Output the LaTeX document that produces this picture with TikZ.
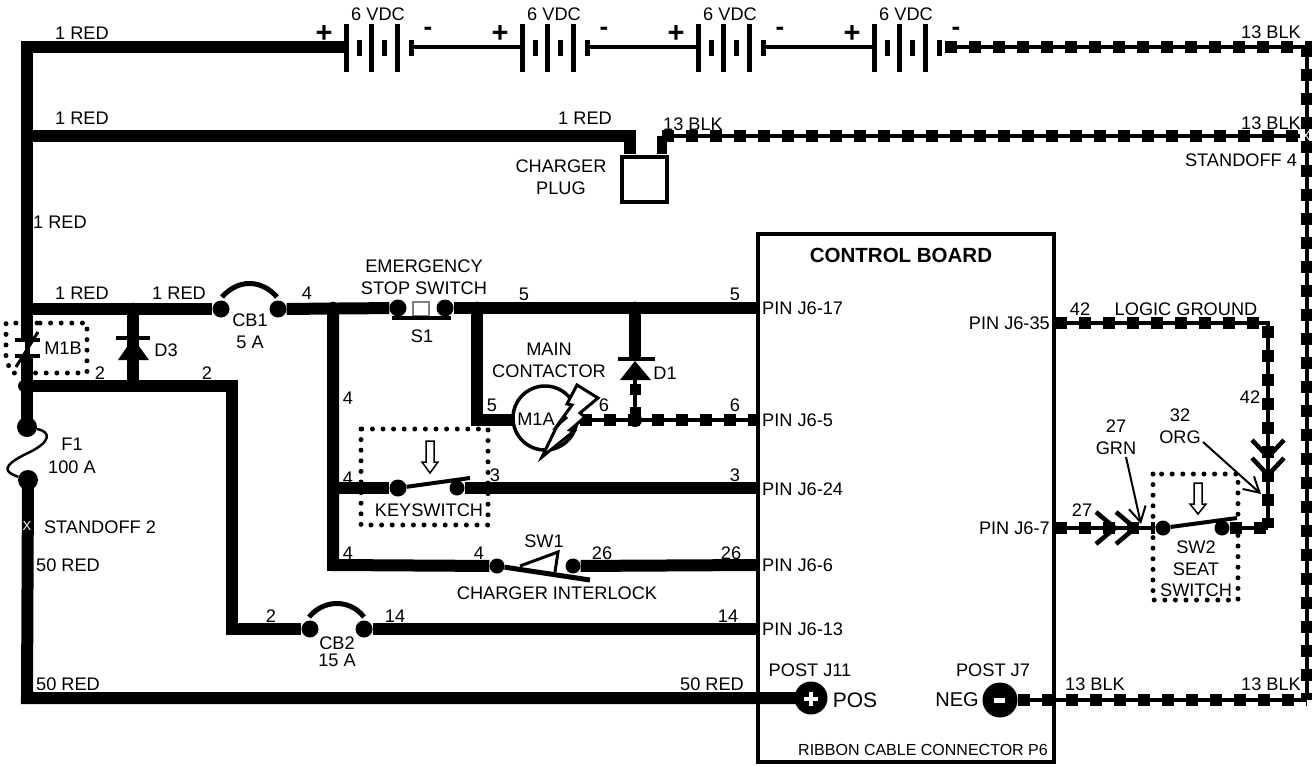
\documentclass[tikz,border=0pt]{standalone}
\usepackage{fontspec}
\setmainfont{Liberation Sans}
\usetikzlibrary{arrows.meta}
\tikzset{
  redwire/.style={line width=12pt},
  thinwire/.style={line width=4pt},
  blkwire/.style={line width=4pt,preaction={draw,line width=12pt,dash pattern=on 12pt off 12pt}},
  blade/.style={line width=4pt},
  joint/.style={circle,fill=black,inner sep=0pt,minimum size=#1},
  joint/.default=17pt,
  dotbox/.style={line width=5pt,line cap=round,dash pattern=on 0pt off 10.6pt},
  lab/.style={inner sep=0pt,font=\fontsize{18.2}{19}\selectfont,align=center},
  leader/.style={line width=2pt,-{Straight Barb[length=15pt,width=17pt]}},
  chevron/.style={line width=4.5pt},
  hollowarrow/.style={draw,line width=1.5pt,fill=white}
}
\begin{document}
\begin{tikzpicture}[x=1pt,y=-1pt]
    \useasboundingbox (0,0) rectangle (1312,766);

    % wire corners and ends
    \foreach \n/\x/\y in {topL/27/47,midL/27/136,midR/630/136,plugA/630/154,plugB/662/154,plugC/662/136,
      r136/1300/136,batEnd/945/47,batTR/1307/47,batBR/1307/700,
      m1bTop/27/340,m1bBot/27/356,lo2/27/386,lo2R/232/386,lo2D/232/629,
      f1a/27/427,f1b/28/480,botL/27/698,
      d3a/133/309,d3b/133/339,d3c/133/360,d3d/133/386,
      v4a/333/308,v4b/333/565,v5a/477/308,v5b/477/420,m1aL/512/420,
      d1a/635/308,d1b/635/357,d1c/635/380,m1aR/580/420,
      pin17/757/308,pin5/757/420,pin24/757/488,pin6/757/565,pin13/757/629,
      pin35/1055/323,pin7/1055/528,logicC/1268/323,logicD/1268/528,
      postPwire/797/698,negR/1307/700}
    \coordinate (\n) at (\x,\y);

    % batteries
    \foreach \k/\s in {0/bA,1/bB,2/bC,3/bD} {
      \foreach \o/\h/\w in {0/24/5,13/8/5,25/24/5,38/8/5,51/24/5,65/8/5}
        \draw [line width=\w pt] (346+176*\k+\o,48-\h) -- (346+176*\k+\o,48+\h);
      \coordinate (\s P) at (346+176*\k,47);
      \coordinate (\s N) at (411+176*\k,47);
      \node [lab,font=\fontsize{29}{29}\selectfont\bfseries] (\s plus) at (324+176*\k,34) {+};
      \node [lab,font=\fontsize{26}{26}\selectfont\bfseries] (\s minus) at (428+176*\k,31) {-};
      \node [lab] (\s volt) at (378+176*\k,14) {6 VDC};
    }
    \draw [redwire] (bAP) -- (topL) -- (m1bTop);
    \draw [thinwire] (bAN) -- (bBP);
    \draw [thinwire] (bBN) -- (bCP);
    \draw [thinwire] (bCN) -- (bDP);
    \draw [blkwire] (batEnd) -- (batTR) -- (batBR);

    % charger plug
    \node [draw,line width=4pt,minimum size=45pt,inner sep=0pt] (plug) at (644,179) {};
    \draw [redwire] (midL) -- (midR) -- (plugA);
    \draw [line width=10pt] (plugB) -- (plugC);
    \draw [blkwire] (plugC) -- (r136);
    \node [lab,text=white,font=\fontsize{13}{13}\selectfont] (so4) at (1306,136) {X};

    % control board
    \node [draw,line width=4pt,minimum width=296pt,minimum height=528pt,inner sep=0pt] (board) at (906,498) {};

    % left rail
    \draw [redwire] (m1bBot) -- (f1a);
    \draw [redwire] (f1b) -- (botL) -- (postPwire);
    \node [lab,text=white,font=\fontsize{13}{13}\selectfont] (so2) at (27,526) {X};
    \node [joint=20pt] (f1A) at (f1a) {};
    \node [joint=20pt] (f1B) at (f1b) {};
    \draw [line width=2.5pt] (f1A) .. controls (52,432) and (50,442) .. (30,452) .. controls (0,466) and (4,472) .. (f1B);

    % M1B contact
    \draw [line width=4pt] (15,340) -- (40,340);
    \draw [line width=4pt] (15,356) -- (40,356);
    \draw [line width=3pt] (16,367) -- (38,332);
    \draw [line width=5pt] (27,340) -- (27,356);
    \draw [dotbox] (40,323) -- (87,323) -- (87,373) -- (40,373) -- (12,373) -- (6,360) -- (6,323) -- cycle;

    % CB1, S1, D3
    \node [joint] (cbOneA) at (221,309) {};
    \node [joint] (cbOneB) at (278,309) {};
    \node [joint] (sOneA) at (398,308) {};
    \node [joint] (sOneB) at (445,308) {};
    \draw [redwire] (27,309) -- (cbOneA);
    \draw [redwire] (cbOneB) -- (sOneA);
    \draw [redwire] (sOneB) -- (pin17);
    \draw [line width=5pt] (222,297) .. controls (238,279) and (261,279) .. (277,297);
    \draw [line width=1.5pt,gray] (413,302) rectangle (429,316);
    \draw [line width=4pt] (392,318) -- (451,318);
    \draw [redwire] (d3a) -- (d3d);
    \draw [line width=4.5pt] (116,338) -- (150,338);
    \fill (133,338) -- (149,360) -- (118,360) -- cycle;
    \foreach \p in {d3a,d3d,v4a,v5a,d1a}
      \fill (\p) ++(0,-1) circle (5.5);

    % CB2
    \node [joint] (cbTwoA) at (310,629) {};
    \node [joint] (cbTwoB) at (364,629) {};
    \draw [redwire] (lo2) -- (lo2R) -- (lo2D) -- (cbTwoA);
    \fill (lo2) ++(-3,0) circle (6);
    \draw [redwire] (cbTwoB) -- (pin13);
    \draw [line width=5pt] (309,617) .. controls (324,599) and (350,599) .. (364,617);

    % branches of wire 4 and 5
    \draw [redwire] (v5a) -- (v5b) -- (m1aL);
    \draw [redwire] (d1a) -- (d1b);
    \draw [line width=4.5pt] (618,359) -- (655,359);
    \fill (635,361) -- (651,380) -- (620,380) -- cycle;
    \draw [thinwire,preaction={draw,line width=11pt,dash pattern=on 11pt off 12pt,dash phase=-4pt}] (d1c) -- (635,420);
    \draw [blkwire] (m1aR) -- (pin5);
    \node [joint=14pt] (d1j) at (635,420) {};

    % M1A coil with bolt
    \node [circle,draw,line width=3.5pt,fill=white,minimum size=64pt,inner sep=0pt] (m1a) at (545,418) {};
    \draw [line width=3pt,fill=white] (577,385) -- (598,398) -- (580,413) -- (585,417) -- (570,430) -- (574,431) -- (542,457) -- (556,428) -- (560,423) -- (567,417) -- (559,423) -- (572,405) -- (567,404) -- cycle;

    % keyswitch
    \node [joint] (kA) at (398,488) {};
    \node [joint=15pt] (kB) at (457,488) {};
    \draw [redwire] (327,488) -- (kA);
    \draw [redwire] (kB) -- (pin24);
    \draw [blade] (kA) -- (470,478);
    \draw [dotbox] (361,429) rectangle (488,525);
    \draw [hollowarrow] (426,441) -- (434,441) -- (434,462) -- (438,462) -- (430,473) -- (422,462) -- (426,462) -- cycle;

    % SW1
    \node [joint=15pt] (swA) at (497,566) {};
    \node [joint=15pt] (swB) at (573,566) {};
    \draw [redwire] (v4a) -- (v4b) -- (swA);
    \draw [redwire] (swB) -- (pin6);
    \draw [line width=5pt] (swA) -- (590,580);
    \draw [line width=3pt] (520,566) -- (558,552) -- (555,572);

    % posts
    \node [joint=33pt] (postP) at (811,698) {};
    \node [joint=35pt] (postN) at (1000,700) {};
    \draw [white,line width=4.5pt] (804,699) -- (818,699) (811,692) -- (811,706);
    \draw [white,line width=5pt] (994,700) -- (1005,700);
    \draw [blkwire] (postN) -- (negR);

    % logic ground and seat switch
    \draw [blkwire] (pin35) -- (logicC) -- (logicD);
    \node [joint=15pt] (swTwoA) at (1163,528) {};
    \node [joint=15pt] (swTwoB) at (1222,528) {};
    \draw [blkwire] (pin7) -- (swTwoA);
    \draw [blkwire] (swTwoB) -- (logicD);
    \draw [blade] (swTwoA) -- (1237,518);
    \draw [dotbox] (1153,474) rectangle (1238,600);
    \draw [hollowarrow] (1194,483) -- (1202,483) -- (1202,504) -- (1206,504) -- (1198,514) -- (1190,504) -- (1194,504) -- cycle;
    \foreach \t in {1115,1135}
      \draw [chevron] (\t-19,512) -- (\t,528) -- (\t-19,544);
    \foreach \t in {457,475}
      \draw [chevron] (1252,\t-17) -- (1268,\t) -- (1284,\t-17);
    \node [lab] (grn) at (1116,437) {27\\[3pt]GRN};
    \node [lab] (org) at (1180,426) {32\\[3pt]ORG};
    \coordinate (grnTip) at (1141,524);
    \coordinate (orgTip) at (1261,494);
    \draw [leader] (1126,457) -- (grnTip);
    \draw [leader] (1203,442) -- (orgTip);

    % wire labels
    \foreach \x/\y/\t [count=\i] in {82/33/1 RED,1271/32/13 BLK,82/118/1 RED,585/118/1 RED,693/124/13 BLK,
      1271/123/13 BLK,1241/160/STANDOFF 4,60/222/1 RED,82/293/1 RED,179/293/1 RED,307/293/4,
      100/373/2,207/373/2,68/565/50 RED,68/684/50 RED,712/684/50 RED,271/616/2,395/616/14,728/616/14,
      524/294/5,735/294/5,348/398/4,492/405/5,604/405/6,735/405/6,348/478/4,495/475/3,735/475/3,
      348/553/4,479/553/4,602/553/26,731/553/26,1080/309/42,1250/397/42,1082/510/27,
      1095/684/13 BLK,1271/684/13 BLK,1186/309/LOGIC GROUND}
      \node [lab] (wire\i) at (\x,\y) {\t};

    % part labels
    \foreach \x/\y/\t [count=\i] in {250/320/CB1,250/342/5 A,63/348/M1B,166/350/D3,72/444/F1,72/467/100 A,100/527/STANDOFF 2,
      337/643/CB2,337/660/15 A,422/336/S1,536/419/M1A,665/373/D1,429/510/KEYSWITCH,544/541/SW1,557/593/CHARGER INTERLOCK,
      1196/547/SW2,1196/569/SEAT,1196/590/SWITCH,810/670/POST J11,993/670/POST J7}
      \node [lab] (part\i) at (\x,\y) {\t};
    \node [lab] (chargerlab) at (561,177) {CHARGER\\[3pt]PLUG};
    \node [lab] (estoplab) at (424,277) {EMERGENCY\\[3pt]STOP SWITCH};
    \node [lab] (mainlab) at (549,360) {MAIN\\[3pt]CONTACTOR};
    \node [lab,font=\fontsize{21}{22}\selectfont] (poslab) at (855,700) {POS};
    \node [lab,font=\fontsize{20}{22}\selectfont] (neglab) at (957,700) {NEG};

    % board labels
    \node [lab,font=\fontsize{20.5}{22}\selectfont\bfseries] (boardlab) at (901,255) {CONTROL BOARD};
    \node [lab,font=\fontsize{16}{18}\selectfont] (ribbonlab) at (923,750) {RIBBON CABLE CONNECTOR P6};
    \foreach \y/\t [count=\i] in {308/PIN J6-17,420/PIN J6-5,489/PIN J6-24,565/PIN J6-6,629/PIN J6-13}
      \node [lab,anchor=west] (pinl\i) at (762,\y) {\t};
    \foreach \y/\t [count=\i] in {323/PIN J6-35,528/PIN J6-7}
      \node [lab,anchor=east] (pinr\i) at (1050,\y) {\t};
  \end{tikzpicture}
\end{document}
